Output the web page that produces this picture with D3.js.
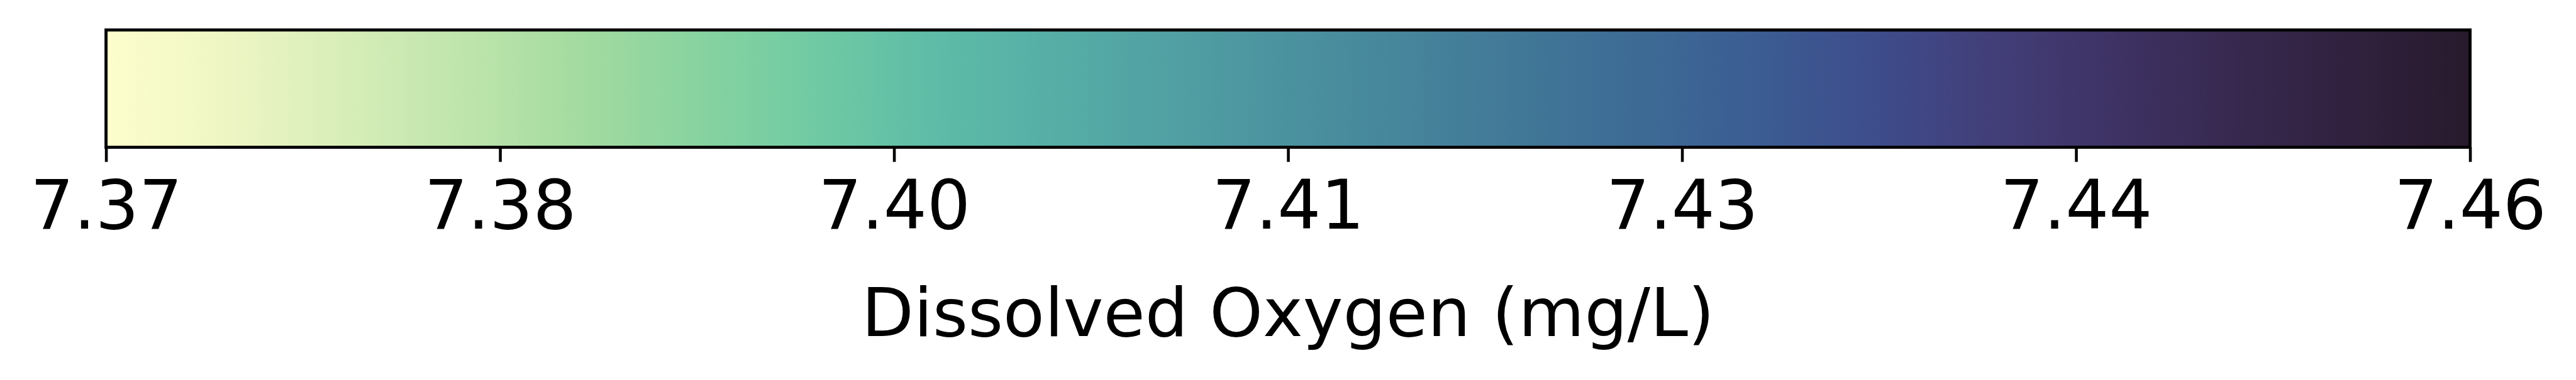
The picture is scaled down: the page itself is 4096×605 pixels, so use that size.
<!DOCTYPE html>
<html>
<head>
<meta charset="utf-8">
<script src="https://cdn.jsdelivr.net/npm/d3@7"></script>
<style>
  html, body { margin: 0; padding: 0; background: #fff; }
  svg { display: block; }
</style>
</head>
<body>
<svg id="chart" width="4096" height="605"></svg>
<script>
// ---- data ----
const vmin = 7.37;
const vmax = 7.46;
const tickValues = [7.37, 7.385, 7.40, 7.415, 7.43, 7.445, 7.46];
const tickLabels = ["7.37", "7.38", "7.40", "7.41", "7.43", "7.44", "7.46"];
const axisLabel = "Dissolved Oxygen (mg/L)";
// colormap stops (fraction along bar, colour)
const cmapPos = [0.00, 0.05, 0.10, 0.15, 0.20, 0.25, 0.30, 0.35, 0.40, 0.45, 0.50, 0.55, 0.60, 0.65, 0.70, 0.75, 0.80, 0.85, 0.90, 0.95, 1.00];
const cmapCol = ["#fdfecc", "#eef6c4", "#d8eeb9", "#bfe5ac", "#a4dba0", "#88d3a0", "#70caa3", "#5ebca7", "#56aea6", "#51a0a3", "#4b929f", "#46859b", "#417797", "#3d6a95", "#3b5c93", "#3e4c8b", "#423e78", "#3e3264", "#37294f", "#30213e", "#281a2c"];

// ---- layout (scaled 0.97) ----
const S = 0.97;
const x0 = 173.8 * S, x1 = 4049 * S;
const y0 = 49.2 * S, y1 = 241.7 * S;
const lw = 5 * S;
const fontSize = 112 * S;
const labelFontSize = 111 * S;

const svg = d3.select("#chart");
const x = d3.scaleLinear().domain([vmin, vmax]).range([x0, x1]);

const defs = svg.append("defs");
const grad = defs.append("linearGradient")
  .attr("id", "cbar").attr("x1", "0%").attr("x2", "100%").attr("y1", "0%").attr("y2", "0%");
grad.selectAll("stop").data(cmapPos).join("stop")
  .attr("offset", d => (d * 100) + "%")
  .attr("stop-color", (d, i) => cmapCol[i]);

svg.append("rect")
  .attr("x", x(vmin)).attr("y", y0)
  .attr("width", x(vmax) - x(vmin)).attr("height", y1 - y0)
  .attr("fill", "url(#cbar)");

// frame
svg.append("rect")
  .attr("x", x(vmin)).attr("y", y0)
  .attr("width", x(vmax) - x(vmin)).attr("height", y1 - y0)
  .attr("fill", "none").attr("stroke", "#000").attr("stroke-width", lw);

// axis
const axis = d3.axisBottom(x)
  .tickValues(tickValues)
  .tickFormat((d, i) => tickLabels[i])
  .tickSize(24 * S)
  .tickPadding(0)
  .tickSizeOuter(0);

const g = svg.append("g").attr("transform", `translate(0,${y1})`).call(axis);
g.select(".domain").remove();
g.selectAll(".tick line").attr("stroke", "#000").attr("stroke-width", 4.7 * S);
g.selectAll(".tick text")
  .attr("font-family", "DejaVu Sans")
  .attr("font-size", fontSize)
  .attr("fill", "#000")
  .attr("dy", null)
  .attr("y", 375 * S - y1);

svg.append("text")
  .attr("x", (x0 + x1) / 2)
  .attr("y", 551.7 * S)
  .attr("text-anchor", "middle")
  .attr("font-family", "DejaVu Sans")
  .attr("font-size", labelFontSize)
  .attr("fill", "#000")
  .text(axisLabel);
</script>
</body>
</html>
